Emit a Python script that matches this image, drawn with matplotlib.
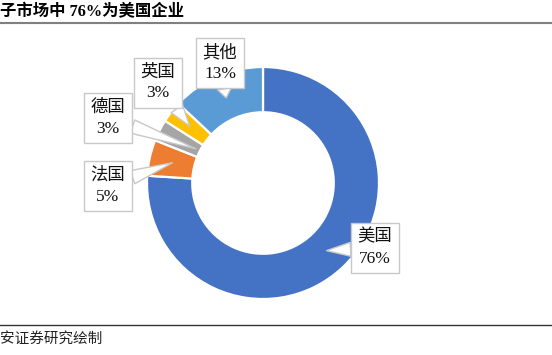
import numpy as np
import matplotlib
matplotlib.use("Agg")
import matplotlib.pyplot as plt
from matplotlib.lines import Line2D

plt.rcParams['font.family'] = ['Liberation Serif', 'Noto Sans CJK SC', 'DejaVu Sans']

# data
countries = ["美国", "法国", "德国", "英国", "其他"]
shares = [76, 5, 3, 3, 13]
colors = ["#4472C4", "#ED7D31", "#A5A5A5", "#FFC000", "#5B9BD5"]

title = "子市场中 76%为美国企业"
source = "安证券研究绘制"

W, H = 552, 355
fig = plt.figure(figsize=(W / 100, H / 100), dpi=100)

# pie axes: center (263,183) px, radius 116 px
cx, cy, r = 263, 183, 116
ax = fig.add_axes([(cx - r) / W, (H - cy - r) / H, 2 * r / W, 2 * r / H])
wedges, _ = ax.pie(shares, colors=colors, startangle=90, counterclock=False,
                   radius=1, wedgeprops=dict(width=0.39, edgecolor="white", linewidth=1.6))
ax.set_xlim(-1, 1)
ax.set_ylim(-1, 1)
ax.set_aspect("equal")
ax.axis("off")

# callout label positions (figure pixels, text center) and pointer radius
label_pos = [(375, 248), (108, 186), (108, 118), (158, 83), (220, 63)]
tip_r = [0.8, 0.8, 0.65, 0.8, 0.8]

for w, name, val, (px, py), tr in zip(wedges, countries, shares, label_pos, tip_r):
    ang = np.deg2rad((w.theta1 + w.theta2) / 2)
    tip = (tr * np.cos(ang), tr * np.sin(ang))
    ax.annotate(f"{name}\n{val}%", xy=tip, xycoords="data",
                xytext=(px / W, 1 - py / H), textcoords="figure fraction",
                ha="center", va="center", fontsize=12.5, linespacing=1.4,
                color="#111111",
                bbox=dict(boxstyle="square,pad=0.38", fc="white", ec="#C8C8C8", lw=1),
                arrowprops=dict(arrowstyle="wedge,tail_width=0.8,shrink_factor=0.5",
                                fc="white", ec="#C8C8C8", lw=1,
                                shrinkA=0, shrinkB=0))

# title and source
fig.text(0 / W, 1 - 12 / H, title, ha="left", va="center", fontsize=11.8,
         fontweight="bold", family=['Liberation Serif', 'Noto Sans CJK SC'])
fig.add_artist(Line2D([0, 1], [1 - 22.5 / H, 1 - 22.5 / H], transform=fig.transFigure,
                      color="#808080", lw=1.5))
fig.add_artist(Line2D([0, 1], [1 - 325 / H, 1 - 325 / H], transform=fig.transFigure,
                      color="#333333", lw=1))
fig.text(0 / W, 1 - 339 / H, source, ha="left", va="center", fontsize=10.5,
         color="#222222")

fig.savefig("out.png", dpi=100)
